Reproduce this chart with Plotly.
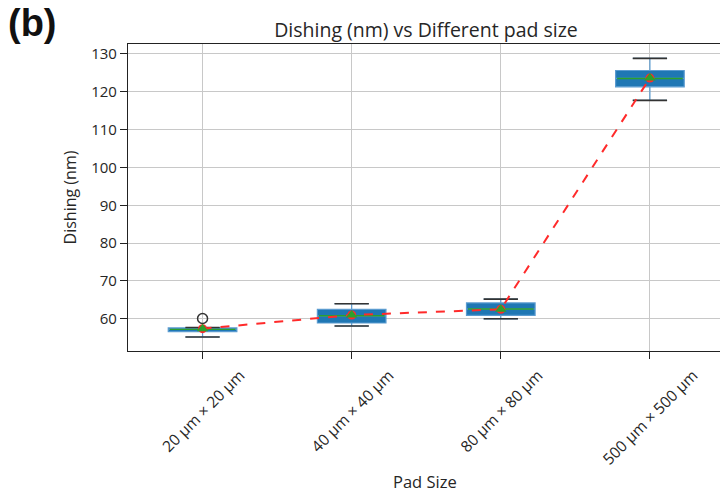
import plotly.graph_objects as go

categories = ["20 µm × 20 µm", "40 µm × 40 µm", "80 µm × 80 µm", "500 µm × 500 µm"]
q1 = [56.6, 58.9, 60.9, 121.3]
median = [57.2, 60.8, 62.6, 123.5]
q3 = [57.6, 62.5, 64.2, 125.6]
lower = [55.2, 58.1, 60.0, 117.7]
upper = [57.7, 64.0, 65.2, 128.8]
means = [57.4, 61.0, 62.5, 123.6]
outlier_idx = [0]
outlier_val = [60.1]

pos = list(range(len(categories)))
BLUE = "#1f77b4"
GREEN = "#2ca02c"
BW = 0.46
FONT = "Open Sans"
TXT = "#262626"

fig = go.Figure()
fig.add_trace(go.Box(
    x=pos, q1=q1, median=median, q3=q3,
    lowerfence=lower, upperfence=upper,
    fillcolor=BLUE, line=dict(color="#5a9bd0", width=1.2),
    width=BW, whiskerwidth=0.5, boxpoints=False, showlegend=False,
    hoverinfo="skip",
))

for i in pos:
    for v in (lower[i], upper[i]):
        fig.add_trace(go.Scatter(
            x=[i - BW / 4, i + BW / 4], y=[v, v], mode="lines",
            line=dict(color="#333333", width=1.6), showlegend=False, hoverinfo="skip"))
    fig.add_trace(go.Scatter(
        x=[i - BW / 2 + 0.01, i + BW / 2 - 0.01], y=[median[i], median[i]], mode="lines",
        line=dict(color=GREEN, width=1.4), showlegend=False, hoverinfo="skip"))

fig.add_trace(go.Scatter(
    x=outlier_idx, y=outlier_val, mode="markers",
    marker=dict(symbol="circle-open", size=10, color="#333333", line=dict(width=1.5)),
    showlegend=False))

fig.add_trace(go.Scatter(
    x=pos, y=means, mode="lines+markers",
    line=dict(color="#ff2a2a", width=2, dash="dash"),
    marker=dict(symbol="circle", size=9, color="#ff2a2a"),
    showlegend=False))
fig.add_trace(go.Scatter(
    x=pos, y=means, mode="markers",
    marker=dict(symbol="triangle-up", size=10, color=GREEN),
    showlegend=False))

axis_common = dict(
    showline=True, linecolor="#222222", linewidth=1.2, mirror=True,
    ticks="outside", ticklen=7, tickcolor="#222222",
    showgrid=True, gridcolor="#c8c8c8", gridwidth=1,
    tickfont=dict(family=FONT, size=15, color=TXT),
    zeroline=False,
)

fig.update_layout(
    width=720, height=493,
    margin=dict(l=128, r=0, t=44, b=142),
    plot_bgcolor="white", paper_bgcolor="white",
    title=dict(text="Dishing (nm) vs Different pad size", x=(128 + 724) / 2 / 720,
               xanchor="center", y=1 - 30 / 493, yanchor="middle",
               font=dict(family=FONT, size=19.5, color=TXT)),
    xaxis=dict(**axis_common, range=[-0.5, 3.47], tickvals=pos, showticklabels=False),
    yaxis=dict(**axis_common, range=[51.5, 132.6], tickvals=[60, 70, 80, 90, 100, 110, 120, 130],
               title=dict(text="Dishing (nm)", font=dict(family=FONT, size=16, color=TXT), standoff=10)),
)

for i, c in zip(pos, categories):
    fig.add_annotation(text=c, x=i, xref="x", y=-11 / 307, yref="paper",
                       xanchor="center", yanchor="top", textangle=-45, showarrow=False,
                       font=dict(family=FONT, size=15.5, color=TXT))

fig.add_annotation(text="Pad Size", x=(425 - 128) / 592, xref="paper", y=-(481 - 351) / 307, yref="paper",
                   xanchor="center", yanchor="middle", showarrow=False,
                   font=dict(family=FONT, size=16.5, color=TXT))

fig.add_annotation(text="<b>(b)</b>", xref="paper", yref="paper",
                   x=-122 / 592, y=1 + 21 / 307, xanchor="left", yanchor="middle",
                   showarrow=False, font=dict(family="Liberation Sans", size=38, color="#111111"))

fig.write_html("out.html")
